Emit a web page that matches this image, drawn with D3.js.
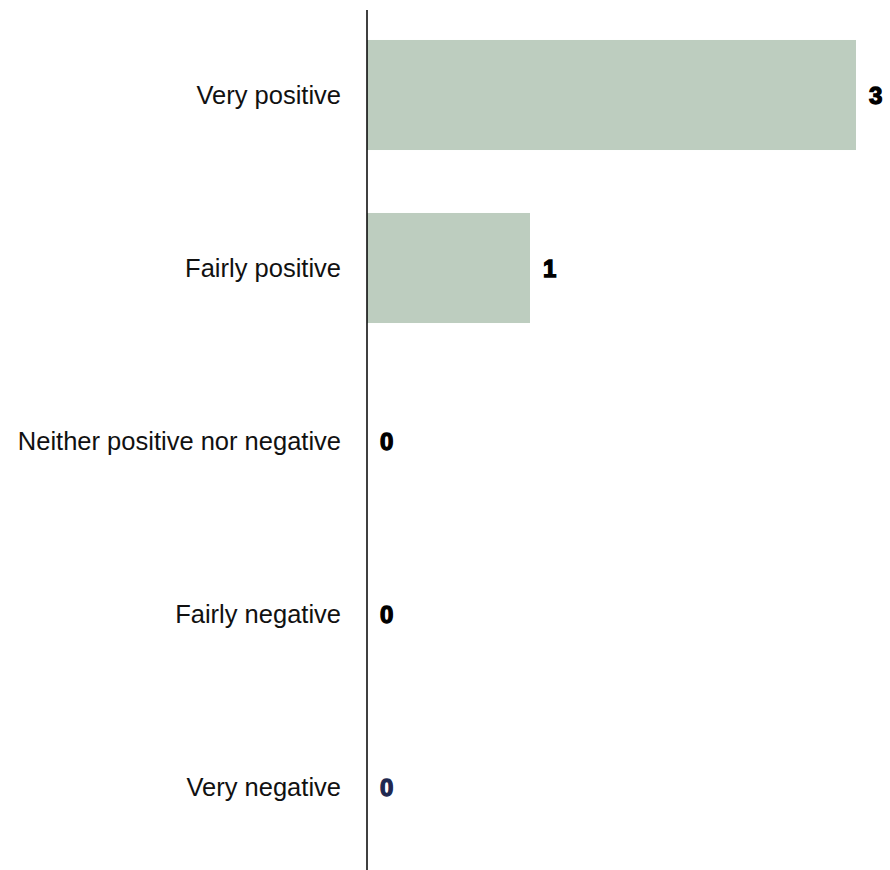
<!DOCTYPE html>
<html>
<head>
<meta charset="utf-8">
<script src="https://cdn.jsdelivr.net/npm/d3@7"></script>
<style>
  html, body { margin: 0; padding: 0; background: #fff; }
  svg { display: block; }
</style>
</head>
<body>
<div id="chart"></div>
<script>
const categories = ["Very positive", "Fairly positive", "Neither positive nor negative", "Fairly negative", "Very negative"];
const values = [3, 1, 0, 0, 0];
const labelColors = ["#000000", "#000000", "#000000", "#000000", "#1f2850"];

const width = 890, height = 870;
const axisX = 367;

const svg = d3.select("#chart").append("svg")
  .attr("width", width).attr("height", height);

const y = d3.scaleBand()
  .domain(categories)
  .range([8.5, 873.5])
  .paddingInner(0.364)
  .paddingOuter(0.182);

const x = d3.scaleLinear()
  .domain([0, 3])
  .range([axisX, 856]);

const data = categories.map((c, i) => ({ c, v: values[i], col: labelColors[i] }));

svg.append("g").selectAll("rect")
  .data(data.filter(d => d.v > 0))
  .join("rect")
  .attr("x", x(0))
  .attr("y", d => y(d.c))
  .attr("width", d => x(d.v) - x(0))
  .attr("height", y.bandwidth())
  .attr("fill", "#bdcdbf");

// axis
const yAxis = d3.axisLeft(y).tickSize(0).tickPadding(26);
const gAxis = svg.append("g")
  .attr("transform", `translate(${axisX},0)`)
  .call(yAxis);
gAxis.select(".domain").remove();
gAxis.selectAll("text")
  .attr("font-family", "'Liberation Sans', Arial, sans-serif")
  .attr("font-size", 25.5)
  .attr("fill", "#111")
  .attr("dy", "0.35em");

svg.append("line")
  .attr("x1", axisX).attr("x2", axisX)
  .attr("y1", 10).attr("y2", height)
  .attr("stroke", "#000").attr("stroke-width", 1.5);

svg.append("g").selectAll("text")
  .data(data)
  .join("text")
  .attr("x", d => x(d.v) + 13)
  .attr("y", d => y(d.c) + y.bandwidth() / 2)
  .attr("dy", "0.36em")
  .attr("font-family", "'Liberation Sans', Arial, sans-serif")
  .attr("font-weight", "bold")
  .attr("font-size", 24)
  .attr("fill", d => d.col)
  .attr("stroke", d => d.col)
  .attr("stroke-width", 1.3)
  .text(d => d.v);
</script>
</body>
</html>
